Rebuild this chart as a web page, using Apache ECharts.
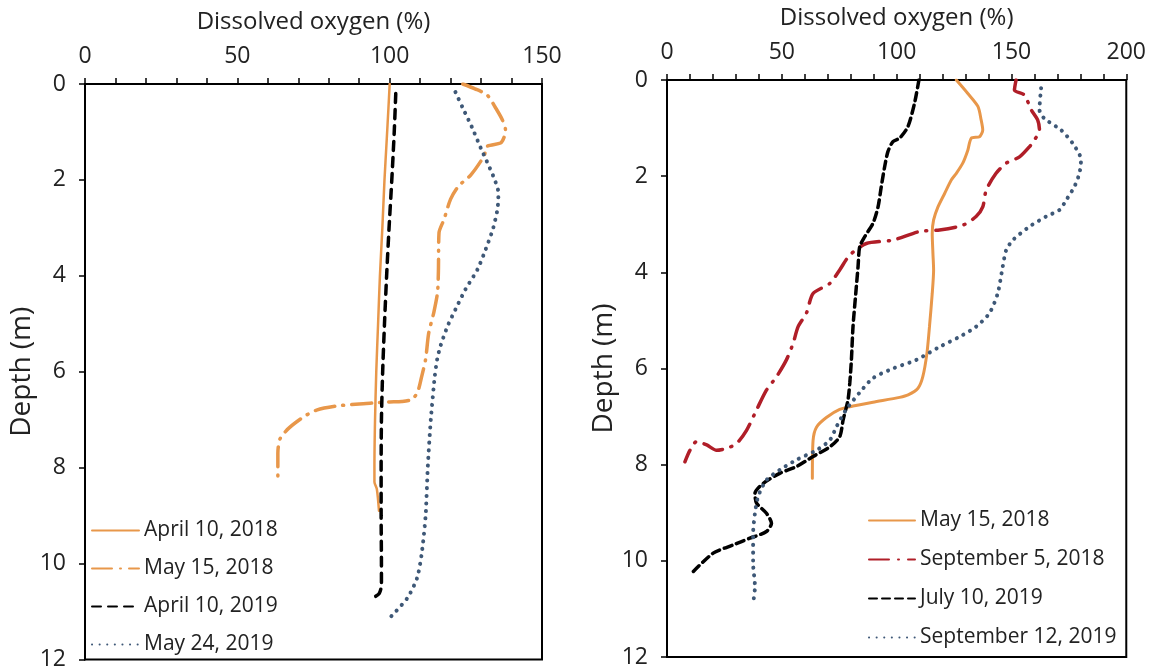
<!DOCTYPE html>
<html>
<head>
<meta charset="utf-8">
<script src="https://cdn.jsdelivr.net/npm/echarts@6/dist/echarts.min.js"></script>
<style>
html,body{margin:0;padding:0;background:#fff;}
#chart{width:1149px;height:671px;}
</style>
</head>
<body>
<div id="chart"></div>
<script>
// ---- Left panel data (2018 / 2019 spring profiles) ----
const leftTicks = [0, 50, 100, 150];
const apr2018_do    = [100, 99.6, 99, 98.3, 97.6, 96.8, 96.2, 95.6, 95.2, 95, 95, 95.8, 96.5];
const apr2018_depth = [0, 0.5, 1.2, 2, 3, 4, 5, 6, 7, 8, 8.3, 8.45, 8.9];

const may2018L_do    = [124, 128, 132, 134.8, 137, 138, 137.5, 136.4, 132, 131, 126.6, 122.6, 120, 117.8, 116.2, 116, 115.7, 114.5, 112.8, 111.8, 110.5, 109.3, 107.5, 104, 100, 95, 90, 82, 76, 72, 67, 64, 63.3, 63.3];
const may2018L_depth = [0, 0.1, 0.23, 0.5, 0.75, 0.95, 1.12, 1.23, 1.3, 1.5, 1.9, 2.13, 2.4, 2.83, 3.1, 3.9, 4.35, 4.76, 5.2, 5.74, 6.1, 6.4, 6.57, 6.62, 6.63, 6.65, 6.67, 6.72, 6.8, 6.93, 7.17, 7.4, 7.7, 8.2];

const apr2019_do    = [102, 101.5, 100.7, 99.8, 99, 98.3, 97.7, 97.3, 97.2, 97.2, 97.3, 97.3, 96.6, 95];
const apr2019_depth = [0.2, 1, 2, 3, 4, 5, 6, 7, 8, 9, 10, 10.45, 10.62, 10.7];

const may2019_do    = [121.6, 124, 127, 130, 132.5, 134.5, 135.7, 135.4, 134, 131.5, 128.8, 124.9, 121.6, 119, 116.7, 115.6, 114.8, 113.5, 112.5, 111.8, 110.5, 109, 106, 102, 99.7];
const may2019_depth = [0.17, 0.5, 0.9, 1.35, 1.7, 2.0, 2.27, 2.6, 3.0, 3.45, 3.87, 4.28, 4.7, 5.05, 5.46, 5.74, 6.1, 7, 8, 9, 9.8, 10.3, 10.7, 11.0, 11.15];

// ---- Right panel data ----
const rightTicks = [0, 50, 100, 150, 200];
const may2018R_do    = [126, 131, 135.4, 136.8, 137.5, 136.1, 132.5, 131, 128.8, 126, 123.8, 120.9, 118, 116.1, 115.5, 115.8, 116.1, 115.5, 114.3, 113.2, 111.4, 109.3, 105, 101.3, 89.7, 81, 75.2, 69.4, 65.1, 63.6, 63.3];
const may2018R_depth = [0, 0.28, 0.55, 0.83, 1.04, 1.18, 1.21, 1.46, 1.73, 1.94, 2.08, 2.36, 2.64, 2.91, 3.19, 3.6, 3.95, 4.44, 5.13, 5.68, 6.17, 6.41, 6.55, 6.6, 6.7, 6.78, 6.85, 7.02, 7.22, 7.5, 8.28];

const sep2018_do    = [152, 151.3, 155.6, 158.6, 161.4, 162.2, 160, 157.8, 153.5, 147.7, 143.3, 139, 137.5, 134.6, 128.8, 118.7, 110, 98.4, 86.8, 79.6, 75.2, 70.9, 63.6, 60.7, 57.1, 54.9, 52, 47.7, 43.3, 39, 34.7, 30.3, 26, 21.6, 17.3, 12.9, 10, 7.8];
const sep2018_depth = [0, 0.21, 0.31, 0.62, 0.83, 1.04, 1.25, 1.39, 1.6, 1.73, 1.94, 2.29, 2.64, 2.84, 3.02, 3.12, 3.15, 3.33, 3.4, 3.64, 3.95, 4.23, 4.44, 4.85, 5.13, 5.48, 5.82, 6.17, 6.45, 6.86, 7.28, 7.56, 7.66, 7.7, 7.59, 7.52, 7.7, 7.94];

const jul2019_do    = [109.7, 107.8, 104.9, 101.3, 98.4, 96.2, 94.8, 93.3, 91.9, 89.7, 86.1, 83.9, 83.2, 82.2, 81, 80.3, 79.6, 78.8, 76.7, 75.2, 70.9, 63.6, 56.4, 49.1, 41.9, 38.3, 39, 43.3, 45.5, 43.3, 36.1, 28.8, 20.1, 10.7];
const jul2019_depth = [0, 0.48, 0.97, 1.21, 1.28, 1.49, 1.8, 2.22, 2.64, 2.98, 3.26, 3.47, 3.88, 4.44, 5.13, 5.82, 6.3, 6.66, 7.07, 7.42, 7.63, 7.83, 8.04, 8.18, 8.39, 8.6, 8.8, 9.01, 9.22, 9.39, 9.53, 9.67, 9.84, 10.26];

const sep2019_do    = [162.9, 162.2, 164.3, 171.6, 176.7, 180.3, 179.6, 177.4, 173.8, 171, 165.1, 157.8, 150.6, 147.7, 146.2, 144, 140.4, 134.6, 127.4, 118.7, 108.6, 98.4, 89.7, 83.9, 78.1, 73.8, 70.9, 65.1, 56.4, 49.1, 43.3, 39.7, 38.3, 37.5, 37.5, 38.3, 37.5];
const sep2019_depth = [0.17, 0.62, 0.8, 1.04, 1.32, 1.66, 1.94, 2.22, 2.5, 2.7, 2.84, 3.05, 3.33, 3.54, 3.88, 4.44, 4.85, 5.13, 5.34, 5.55, 5.82, 6.0, 6.2, 6.5, 6.85, 7.21, 7.49, 7.7, 7.9, 8.11, 8.32, 8.66, 9.01, 9.43, 10.05, 10.54, 10.88];

const depthTicks = [0, 2, 4, 6, 8, 10, 12];

const leftNames  = ['April 10, 2018', 'May 15, 2018', 'April 10, 2019', 'May 24, 2019'];
const rightNames = ['May 15, 2018', 'September 5, 2018', 'July 10, 2019', 'September 12, 2019'];
// internal ids for the right panel so legend entries link to their own series
const RP = 'R|';
const rightKeys = rightNames.map(n => RP + n);

function pairs(xs, ys) { return xs.map((x, i) => [x, ys[i]]); }

const FONT = 'Open Sans';
const ORANGE = '#E8974A';
const RED = '#B01E28';
const BLUE = '#3E5877';

function xAxis(gi, max) {
  return {
    type: 'value', gridIndex: gi, position: 'top', min: 0, max: max, interval: 50,
    name: 'Dissolved oxygen (%)', nameLocation: 'middle', nameGap: 50,
    nameTextStyle: { fontFamily: FONT, fontSize: 24, color: '#222' },
    axisLine: { show: true, lineStyle: { color: '#000', width: 2 } },
    axisTick: { show: true, length: 6, lineStyle: { color: '#000', width: 1.5 } },
    minorTick: { show: true, splitNumber: 5, length: 6, lineStyle: { color: '#000', width: 1.5 } },
    axisLabel: { fontFamily: FONT, fontSize: 23, color: '#222', margin: 16 },
    splitLine: { show: false }
  };
}
function yAxis(gi, gap) {
  return {
    type: 'value', gridIndex: gi, inverse: true, min: 0, max: 12, interval: 2,
    name: 'Depth (m)', nameLocation: 'middle', nameGap: gap,
    nameTextStyle: { fontFamily: FONT, fontSize: 28, color: '#222' },
    axisLine: { show: true, lineStyle: { color: '#000', width: 2 } },
    axisTick: { show: true, length: 6, lineStyle: { color: '#000', width: 1.5 } },
    axisLabel: { fontFamily: FONT, fontSize: 23, color: '#222', margin: 19 },
    splitLine: { show: false }
  };
}
function line(name, gi, data, color, width, type) {
  return {
    type: 'line', name: name, xAxisIndex: gi, yAxisIndex: gi,
    data: data, symbol: 'none', smooth: 0.25,
    lineStyle: { color: color, width: width, type: type, cap: 'round' },
    itemStyle: { color: color },
    animation: false
  };
}

const legendCommon = {
  orient: 'vertical', itemHeight: 14, itemGap: 17, selectedMode: false,
  itemStyle: { opacity: 0 },
  formatter: n => n.replace(RP, ''),
  textStyle: { fontFamily: FONT, fontSize: 21, color: '#222' }
};

const chart = echarts.init(document.getElementById('chart'), null, { renderer: 'canvas' });
chart.setOption({
  backgroundColor: '#fff',
  animation: false,
  grid: [
    { left: 85, top: 84, width: 457, height: 577, show: true, borderColor: '#000', borderWidth: 2, backgroundColor: 'transparent' },
    { left: 667, top: 80, width: 460, height: 577, show: true, borderColor: '#000', borderWidth: 2, backgroundColor: 'transparent' }
  ],
  xAxis: [xAxis(0, 150), xAxis(1, 200)],
  yAxis: [yAxis(0, 33), yAxis(1, 31)],
  legend: [
    Object.assign({}, legendCommon, { data: leftNames, left: 86, top: 515, itemWidth: 47 }),
    Object.assign({}, legendCommon, { data: rightKeys, left: 863, top: 505, itemWidth: 46, itemGap: 18 })
  ],
  series: [
    line(leftNames[0], 0, pairs(apr2018_do, apr2018_depth), ORANGE, 2.5, 'solid'),
    line(leftNames[1], 0, pairs(may2018L_do, may2018L_depth), ORANGE, 3.5, [20, 8, 1, 8]),
    line(leftNames[2], 0, pairs(apr2019_do, apr2019_depth), '#000', 3.5, [9, 7]),
    line(leftNames[3], 0, pairs(may2019_do, may2019_depth), BLUE, 4, [0.1, 7.5]),
    line(rightKeys[0], 1, pairs(may2018R_do, may2018R_depth), ORANGE, 3, 'solid'),
    line(rightKeys[1], 1, pairs(sep2018_do, sep2018_depth), RED, 3.5, [20, 9, 1, 9]),
    line(rightKeys[2], 1, pairs(jul2019_do, jul2019_depth), '#000', 3.5, [8, 5]),
    line(rightKeys[3], 1, pairs(sep2019_do, sep2019_depth), BLUE, 4, [0.1, 7.5])
  ]
});
</script>
</body>
</html>
